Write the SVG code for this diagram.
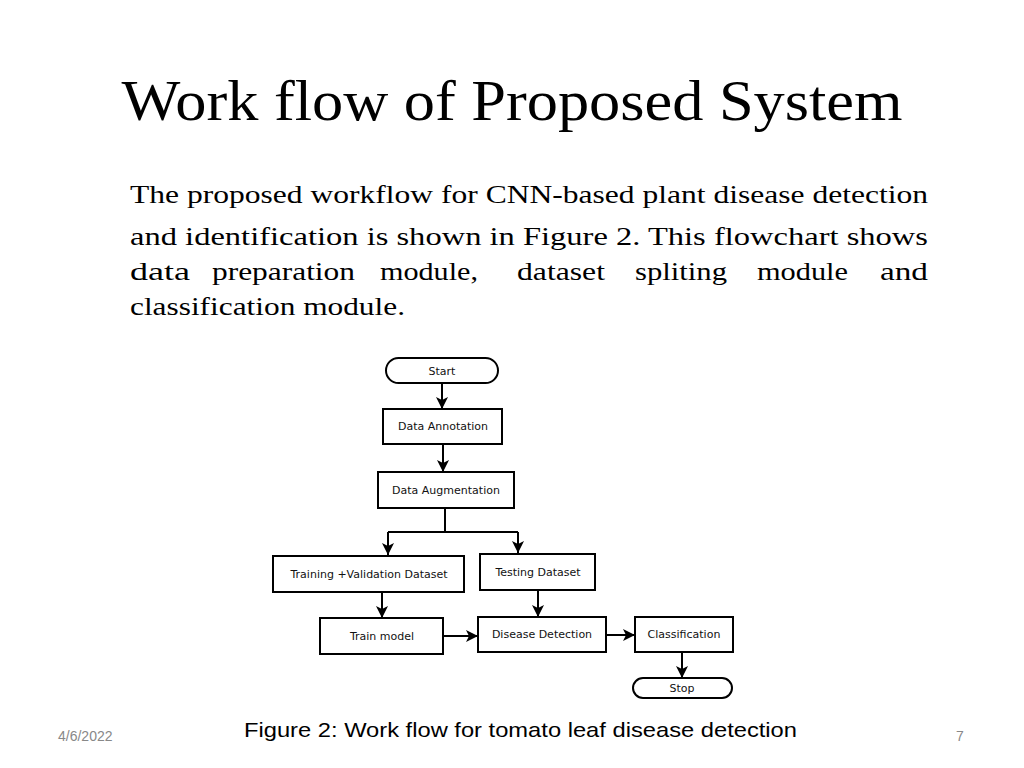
<svg xmlns="http://www.w3.org/2000/svg" width="1024" height="768" viewBox="0 0 1024 768">
<style>
.b{fill:#fff;stroke:#000;stroke-width:2}
.n{font-family:"DejaVu Sans",sans-serif;font-size:11px;text-anchor:middle;fill:#111}
.c{stroke:#000;stroke-width:2;fill:none}
.p{font-family:"Liberation Serif",serif;font-size:26px;fill:#000}
</style>
<defs><marker id="a" markerWidth="12" markerHeight="12" refX="11" refY="6" orient="auto" markerUnits="userSpaceOnUse" viewBox="0 0 12 12"><path d="M0,0L12,6L0,12L3,6z"/></marker></defs>
<rect width="1024" height="768" fill="#fff"/>
<text x="512" y="120" font-family="Liberation Serif,serif" font-size="56" text-anchor="middle" textLength="781" lengthAdjust="spacingAndGlyphs">Work flow of Proposed System</text>
<text class="p" x="130" y="203" textLength="798" lengthAdjust="spacingAndGlyphs">The proposed workflow for CNN-based plant disease detection</text>
<text class="p" x="130" y="245" textLength="798" lengthAdjust="spacingAndGlyphs">and identification is shown in Figure 2. This flowchart shows</text>
<text class="p" y="280"><tspan x="130" textLength="60" lengthAdjust="spacingAndGlyphs">data</tspan><tspan x="212" textLength="143" lengthAdjust="spacingAndGlyphs">preparation</tspan><tspan x="380" textLength="98" lengthAdjust="spacingAndGlyphs">module,</tspan><tspan x="517" textLength="88" lengthAdjust="spacingAndGlyphs">dataset</tspan><tspan x="635" textLength="92" lengthAdjust="spacingAndGlyphs">spliting</tspan><tspan x="757" textLength="91" lengthAdjust="spacingAndGlyphs">module</tspan><tspan x="880" textLength="48" lengthAdjust="spacingAndGlyphs">and</tspan></text>
<text class="p" x="130" y="315" textLength="275" lengthAdjust="spacingAndGlyphs">classification module.</text>
<g id="connectors">
<path class="c" d="M442,383V408" marker-end="url(#a)"/>
<path class="c" d="M443,444V471" marker-end="url(#a)"/>
<path class="c" d="M445,508V532M388,532H518M388,532V555M518,532V553"/>
<path d="M382,543l6,12 6,-12l-6,3z M512,541l6,12 6,-12l-6,3z"/>
<path class="c" d="M382,592V617" marker-end="url(#a)"/>
<path class="c" d="M538,590V616" marker-end="url(#a)"/>
<path class="c" d="M443,636H477" marker-end="url(#a)"/>
<path class="c" d="M606,635H634" marker-end="url(#a)"/>
<path class="c" d="M682,652V677" marker-end="url(#a)"/>
</g>
<g id="start"><rect class="b" x="386" y="358" width="112" height="25" rx="12.5"/><text class="n" x="442" y="375">Start</text></g>
<g id="annot"><rect class="b" x="383" y="409" width="119" height="35"/><text class="n" x="443" y="430">Data Annotation</text></g>
<g id="aug"><rect class="b" x="378" y="472" width="136" height="36"/><text class="n" x="446" y="494">Data Augmentation</text></g>
<g id="train"><rect class="b" x="273" y="556" width="191" height="36"/><text class="n" x="369" y="578">Training +Validation Dataset</text></g>
<g id="test"><rect class="b" x="480" y="554" width="115" height="36"/><text class="n" x="538" y="576">Testing Dataset</text></g>
<g id="model"><rect class="b" x="320" y="618" width="123" height="36"/><text class="n" x="382" y="640">Train model</text></g>
<g id="detect"><rect class="b" x="478" y="617" width="128" height="35"/><text class="n" x="542" y="638">Disease Detection</text></g>
<g id="class"><rect class="b" x="635" y="617" width="98" height="35"/><text class="n" x="684" y="638">Classification</text></g>
<g id="stop"><rect class="b" x="633" y="678" width="99" height="20" rx="10"/><text class="n" x="682" y="692">Stop</text></g>
<text x="244" y="737" font-family="Liberation Sans,sans-serif" font-size="21" textLength="553" lengthAdjust="spacingAndGlyphs">Figure 2: Work flow for tomato leaf disease detection</text>
<text x="58" y="741" font-family="Liberation Sans,sans-serif" font-size="14" fill="#888">4/6/2022</text>
<text x="960" y="741" font-family="Liberation Sans,sans-serif" font-size="14" fill="#888" text-anchor="middle">7</text>
</svg>
